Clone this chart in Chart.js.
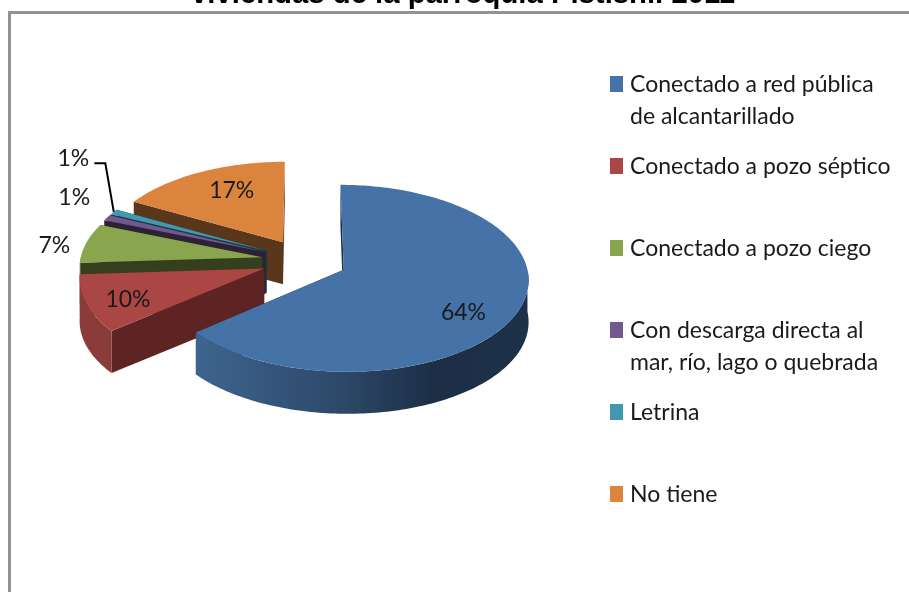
<!DOCTYPE html>
<html>
<head>
<meta charset="utf-8">
<style>html,body{margin:0;padding:0;background:#fff;overflow:hidden}canvas{display:block}</style>
<script src="https://cdn.jsdelivr.net/npm/chart.js@4/dist/chart.umd.min.js"></script>
</head>
<body>
<canvas id="c" width="909" height="592"></canvas>
<script>
const titleText = 'viviendas de la parroquia Pistishi. 2011';
const categories = ['Conectado a red pública de alcantarillado','Conectado a pozo séptico','Conectado a pozo ciego','Con descarga directa al mar, río, lago o quebrada','Letrina','No tiene'];
const legendLines = [['Conectado a red pública','de alcantarillado'],['Conectado a pozo séptico'],['Conectado a pozo ciego'],['Con descarga directa al','mar, río, lago o quebrada'],['Letrina'],['No tiene']];
const values = [64,10,7,1,1,17];
const topColors = ['#4572A7','#AA4643','#89A54E','#71588F','#4198AF','#DB843D'];
const cutColors = ['#1b2e45','#5e2423','#353f1e','#2c2238','#193b44','#5a361a'];
const rimColors = [null,'#8b3b39','#66793a','#4f3e66','#2e6b7b','#a3622d'];
const labelNudge = [[-1,14],[-13,7],[-84,-2],[-79,-30],[-85,-65],[8,-2]];

const CX = 304.5, CY = 260.5, SQUASH = 0.5, PERSP = 0.0005, DEPTH = 42;
const FONT = '23px Lato';

function proj(u, v) {
  const w = 1 / (1 - PERSP * v);
  return [CX + u * w, CY + v * SQUASH * w];
}
function slicePoint(el, a, r) {
  const o = el.options.offset / 4, mid = (el.startAngle + el.endAngle) / 2;
  return proj(Math.cos(mid) * o + Math.cos(a) * r, Math.sin(mid) * o + Math.sin(a) * r);
}
function fillPoly(ctx, pts, fill) {
  ctx.beginPath();
  pts.forEach((p, i) => i ? ctx.lineTo(p[0], p[1]) : ctx.moveTo(p[0], p[1]));
  ctx.closePath();
  ctx.fillStyle = fill;
  ctx.fill();
}
function rimSamples(el, a0, a1) {
  const n = Math.max(2, Math.ceil((a1 - a0) / 0.02)), out = [];
  for (let i = 0; i <= n; i++) out.push(slicePoint(el, a0 + (a1 - a0) * i / n, el.outerRadius));
  return out;
}
const pie3d = {
  id: 'pie3d',
  beforeDraw(chart) {
    const ctx = chart.ctx;
    ctx.save();
    ctx.fillStyle = '#fff';
    ctx.fillRect(0, 0, chart.width, chart.height);
    ctx.strokeStyle = '#929292';
    ctx.lineWidth = 3;
    ctx.strokeRect(9.5, 12.5, 1200, 1200);
    ctx.restore();
  },
  beforeDatasetsDraw(chart) {
    const ctx = chart.ctx, els = chart.getDatasetMeta(0).data;
    const blueRim = ctx.createLinearGradient(200, 0, 526, 0);
    blueRim.addColorStop(0, '#3d648f');
    blueRim.addColorStop(0.45, '#2c4767');
    blueRim.addColorStop(0.72, '#1b2e45');
    blueRim.addColorStop(1, '#1d3148');
    [5, 4, 3, 2, 1, 0].forEach(i => {
      const el = els[i], a0 = el.startAngle, a1 = el.endAngle;
      const apex = slicePoint(el, 0, 0);
      const down = p => [p[0], p[1] + DEPTH];
      [a0, a1].forEach(a => {
        const e = slicePoint(el, a, el.outerRadius);
        fillPoly(ctx, [apex, e, down(e), down(apex)], cutColors[i]);
      });
      const lo = Math.max(a0, 0), hi = Math.min(a1, Math.PI);
      if (hi > lo) {
        const rim = rimSamples(el, lo, hi);
        fillPoly(ctx, rim.concat(rim.map(down).reverse()), rimColors[i] || blueRim);
      }
      fillPoly(ctx, [apex].concat(rimSamples(el, a0, a1)), el.options.backgroundColor);
    });
    return false;
  },
  afterDraw(chart) {
    const ctx = chart.ctx, els = chart.getDatasetMeta(0).data;
    ctx.save();
    ctx.font = FONT;
    ctx.textAlign = 'center';
    ctx.textBaseline = 'middle';
    els.forEach((el, i) => {
      const mid = (el.startAngle + el.endAngle) / 2;
      const p = slicePoint(el, mid, el.outerRadius * 0.7);
      const x = p[0] + labelNudge[i][0], y = p[1] + labelNudge[i][1];
      ctx.fillStyle = '#1a1a1a';
      ctx.fillText(values[i] + '%', x, y);
      if (i === 4) {
        const rim = slicePoint(el, mid, el.outerRadius);
        ctx.beginPath();
        ctx.moveTo(x + 21, y + 5);
        ctx.lineTo(x + 32, y + 5);
        ctx.lineTo(rim[0], rim[1]);
        ctx.strokeStyle = '#000';
        ctx.lineWidth = 2;
        ctx.stroke();
      }
    });
    ctx.textAlign = 'left';
    legendLines.forEach((lines, i) => {
      const y = 84 + i * 82;
      ctx.fillStyle = topColors[i];
      ctx.fillRect(610, y - 8, 13, 16);
      ctx.fillStyle = '#1a1a1a';
      lines.forEach((t, k) => ctx.fillText(t, 630, y + 1 + k * 32));
    });
    ctx.restore();
  }
};
new Chart(document.getElementById('c'), {
  type: 'pie',
  data: { labels: categories, datasets: [{ data: values, backgroundColor: topColors, borderWidth: 0, offset: 172 }] },
  options: {
    responsive: false,
    animation: false,
    events: [],
    radius: 182,
    rotation: 0,
    layout: { padding: { left: 17 } },
    plugins: {
      legend: { display: false },
      tooltip: { enabled: false },
      title: { display: true, text: titleText, color: '#000', font: { family: 'Liberation Sans', size: 29.3, weight: 'bold' }, padding: { top: -23, bottom: 0 } }
    }
  },
  plugins: [pie3d]
});
</script>
</body>
</html>
